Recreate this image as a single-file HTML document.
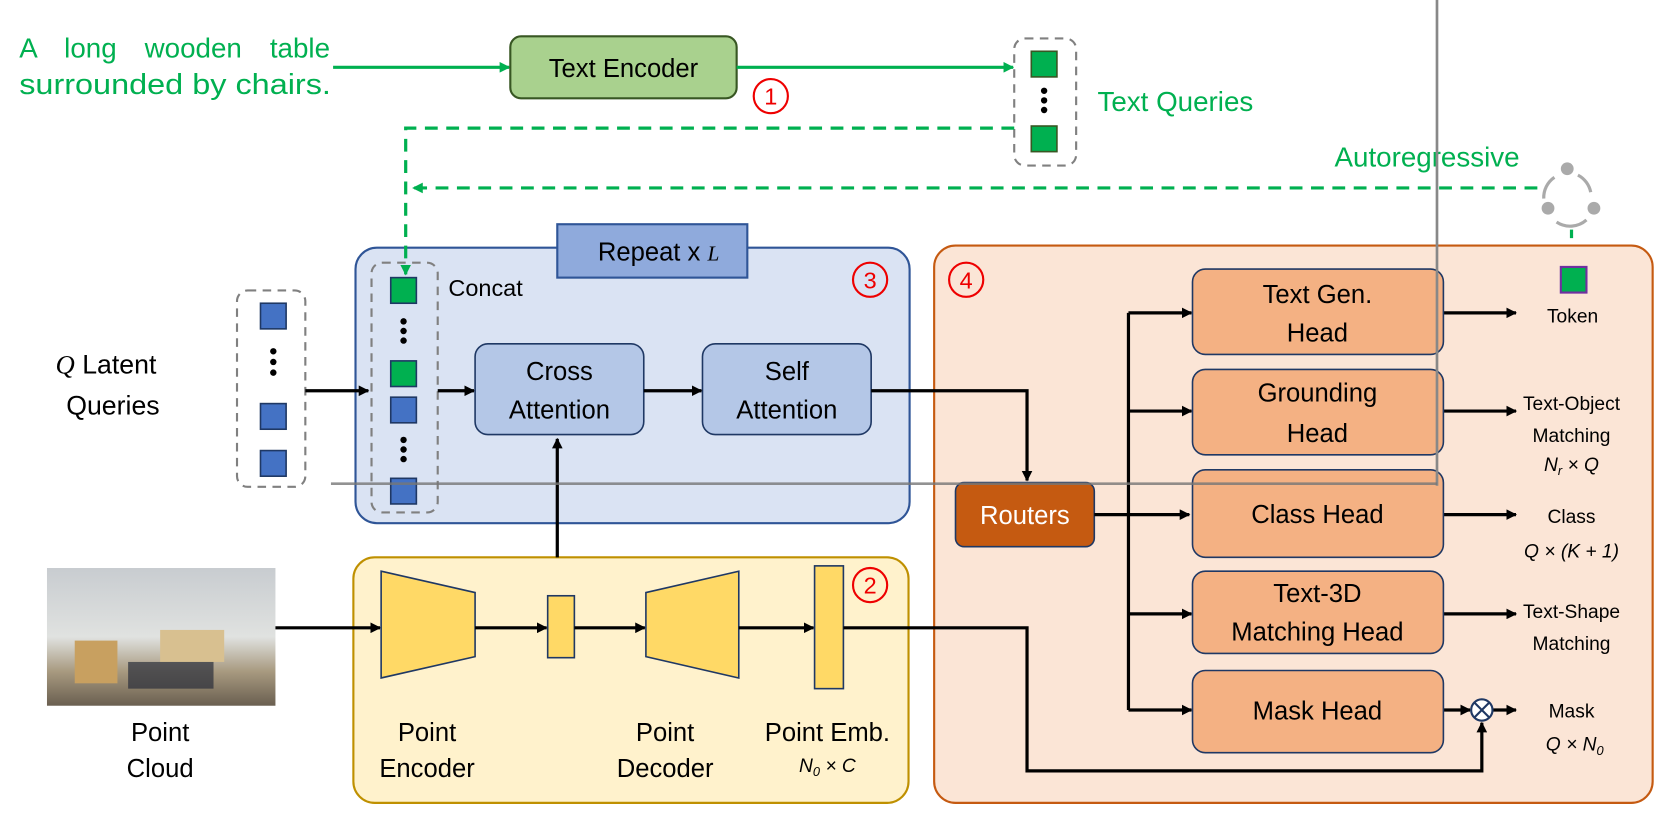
<!DOCTYPE html>
<html><head><meta charset="utf-8"><style>html,body{margin:0;padding:0;background:#fff}svg{display:block}
text{font-family:"Liberation Sans",sans-serif}</style></head><body>
<svg width="1674" height="820" viewBox="0 0 1568 768" xmlns="http://www.w3.org/2000/svg">
<defs>
<marker id="a" markerWidth="10" markerHeight="10" refX="9" refY="5" orient="auto" markerUnits="userSpaceOnUse"><path d="M0,0 L10,5 L0,10 Z" fill="#000"/></marker>
<marker id="g" markerWidth="10" markerHeight="10" refX="9" refY="5" orient="auto" markerUnits="userSpaceOnUse"><path d="M0,0 L10,5 L0,10 Z" fill="#00b050"/></marker>
<linearGradient id="ph" x1="0" y1="0" x2="0" y2="1"><stop offset="0" stop-color="#c8ccd0"/><stop offset="0.5" stop-color="#e0e2e0"/><stop offset="0.75" stop-color="#a89a80"/><stop offset="1" stop-color="#6a5f50"/></linearGradient>
</defs>
<!-- top text -->
<g fill="#00b050" font-size="26">
<text x="18" y="54" word-spacing="19">A long wooden table</text>
<text x="18" y="88" font-size="27" textLength="292" lengthAdjust="spacingAndGlyphs">surrounded by chairs.</text>
<text x="1028" y="104">Text Queries</text>
<text x="1250" y="156">Autoregressive</text>
</g>
<line x1="312" y1="63" x2="477" y2="63" stroke="#00b050" stroke-width="3" marker-end="url(#g)"/>
<rect x="478" y="34" width="212" height="58" rx="10" fill="#a9d18e" stroke="#385723" stroke-width="2"/>
<text x="584" y="72" font-size="24" text-anchor="middle">Text Encoder</text>
<circle cx="722" cy="90" r="16" fill="#fff" stroke="#e00" stroke-width="2"/><text x="722" y="98" font-size="22" fill="#e00" text-anchor="middle">1</text>
<line x1="690" y1="63" x2="949" y2="63" stroke="#00b050" stroke-width="3" marker-end="url(#g)"/>
<rect x="950" y="36" width="58" height="119" rx="10" fill="none" stroke="#808080" stroke-width="2" stroke-dasharray="8,6"/>
<rect x="966" y="48" width="24" height="24" fill="#00b050" stroke="#385723" stroke-width="1.5"/>
<rect x="966" y="118" width="24" height="24" fill="#00b050" stroke="#385723" stroke-width="1.5"/>
<g fill="#000"><circle cx="978" cy="85" r="3"/><circle cx="978" cy="94" r="3"/><circle cx="978" cy="103" r="3"/></g>
<path d="M1440,176 H387" fill="none" stroke="#00b050" stroke-width="3" stroke-dasharray="12,8" marker-end="url(#g)"/>
<!-- cycle icon -->
<g fill="#aaa" stroke="#aaa"><circle cx="1468" cy="158" r="6" stroke="none"/><circle cx="1450" cy="195" r="6" stroke="none"/><circle cx="1493" cy="195" r="6" stroke="none"/>
<path d="M1446,186 A23,23 0 0 1 1456,166 M1478,164 A23,23 0 0 1 1490,180 M1486,206 A23,23 0 0 1 1458,208" fill="none" stroke-width="3"/></g>
<line x1="1472" y1="215" x2="1472" y2="250" stroke="#00b050" stroke-width="3" stroke-dasharray="8,6"/>
<!-- blue box -->
<rect x="333" y="232" width="519" height="258" rx="20" fill="#dae3f3" stroke="#2f5597" stroke-width="2"/>
<path d="M950,120 H380 V257" fill="none" stroke="#00b050" stroke-width="3" stroke-dasharray="12,8" marker-end="url(#g)"/>
<rect x="522" y="210" width="178" height="50" fill="#8faadc" stroke="#2f5597" stroke-width="2"/>
<text x="560" y="244" font-size="24">Repeat x <tspan font-family="Liberation Serif" font-style="italic" font-size="20">L</tspan></text>
<circle cx="815" cy="262" r="16" fill="none" stroke="#e00" stroke-width="2"/><text x="815" y="270" font-size="22" fill="#e00" text-anchor="middle">3</text>
<text x="420" y="277" font-size="22">Concat</text>
<rect x="348" y="246" width="62" height="234" rx="10" fill="none" stroke="#808080" stroke-width="2" stroke-dasharray="8,6"/>
<rect x="366" y="260" width="24" height="24" fill="#00b050" stroke="#1f3864" stroke-width="1.5"/>
<rect x="366" y="338" width="24" height="24" fill="#00b050" stroke="#1f3864" stroke-width="1.5"/>
<rect x="366" y="372" width="24" height="24" fill="#4472c4" stroke="#1f3864" stroke-width="1.5"/>
<rect x="366" y="448" width="24" height="24" fill="#4472c4" stroke="#1f3864" stroke-width="1.5"/>
<g fill="#000"><circle cx="378" cy="301" r="3"/><circle cx="378" cy="310" r="3"/><circle cx="378" cy="319" r="3"/>
<circle cx="378" cy="412" r="3"/><circle cx="378" cy="421" r="3"/><circle cx="378" cy="430" r="3"/>
<circle cx="256" cy="329" r="3"/><circle cx="256" cy="339" r="3"/><circle cx="256" cy="349" r="3"/></g>
<rect x="222" y="272" width="64" height="184" rx="10" fill="none" stroke="#808080" stroke-width="2" stroke-dasharray="8,6"/>
<rect x="244" y="284" width="24" height="24" fill="#4472c4" stroke="#1f3864" stroke-width="1.5"/>
<rect x="244" y="378" width="24" height="24" fill="#4472c4" stroke="#1f3864" stroke-width="1.5"/>
<rect x="244" y="422" width="24" height="24" fill="#4472c4" stroke="#1f3864" stroke-width="1.5"/>
<text x="52" y="350" font-size="25"><tspan font-family="Liberation Serif" font-style="italic">Q</tspan>  Latent</text>
<text x="62" y="388" font-size="25">Queries</text>
<line x1="286" y1="366" x2="345" y2="366" stroke="#000" stroke-width="3" marker-end="url(#a)"/>
<line x1="410" y1="366" x2="444" y2="366" stroke="#000" stroke-width="3" marker-end="url(#a)"/>
<rect x="445" y="322" width="158" height="85" rx="12" fill="#b4c7e7" stroke="#1f3864" stroke-width="1.5"/>
<text x="524" y="356" font-size="24" text-anchor="middle">Cross</text><text x="524" y="392" font-size="24" text-anchor="middle">Attention</text>
<rect x="658" y="322" width="158" height="85" rx="12" fill="#b4c7e7" stroke="#1f3864" stroke-width="1.5"/>
<text x="737" y="356" font-size="24" text-anchor="middle">Self</text><text x="737" y="392" font-size="24" text-anchor="middle">Attention</text>
<line x1="603" y1="366" x2="657" y2="366" stroke="#000" stroke-width="3" marker-end="url(#a)"/>
<!-- yellow box -->
<rect x="331" y="522" width="520" height="230" rx="20" fill="#fff2cc" stroke="#bf9000" stroke-width="2"/>
<circle cx="815" cy="548" r="16" fill="none" stroke="#e00" stroke-width="2"/><text x="815" y="556" font-size="22" fill="#e00" text-anchor="middle">2</text>
<rect x="44" y="532" width="214" height="129" fill="url(#ph)"/>
<rect x="150" y="590" width="60" height="30" fill="#d8c090"/><rect x="70" y="600" width="40" height="40" fill="#c8a060"/>
<rect x="120" y="620" width="80" height="25" fill="#2a2e3a" opacity="0.7"/>
<line x1="258" y1="588" x2="356" y2="588" stroke="#000" stroke-width="3" marker-end="url(#a)"/>
<polygon points="357,535 445,555 445,615 357,635" fill="#ffd966" stroke="#1f3864" stroke-width="1.5"/>
<line x1="445" y1="588" x2="512" y2="588" stroke="#000" stroke-width="3" marker-end="url(#a)"/>
<rect x="513" y="558" width="25" height="58" fill="#ffd966" stroke="#1f3864" stroke-width="1.5"/>
<line x1="538" y1="588" x2="604" y2="588" stroke="#000" stroke-width="3" marker-end="url(#a)"/>
<polygon points="605,555 692,535 692,635 605,615" fill="#ffd966" stroke="#1f3864" stroke-width="1.5"/>
<line x1="692" y1="588" x2="762" y2="588" stroke="#000" stroke-width="3" marker-end="url(#a)"/>
<rect x="763" y="530" width="27" height="115" fill="#ffd966" stroke="#1f3864" stroke-width="1.5"/>
<line x1="522" y1="522" x2="522" y2="411" stroke="#000" stroke-width="3" marker-end="url(#a)"/>
<g font-size="24" text-anchor="middle">
<text x="150" y="694">Point</text><text x="150" y="728">Cloud</text>
<text x="400" y="694">Point</text><text x="400" y="728">Encoder</text>
<text x="623" y="694">Point</text><text x="623" y="728">Decoder</text>
<text x="775" y="694">Point Emb.</text></g>
<text x="775" y="723" font-size="18" font-family="Liberation Serif" font-style="italic" text-anchor="middle">N<tspan font-size="12" dy="4">0</tspan><tspan dy="-4"> × C</tspan></text>
<!-- orange box -->
<rect x="875" y="230" width="673" height="522" rx="20" fill="#fbe5d6" stroke="#c55a11" stroke-width="2"/>
<path d="M816,366 H962 V450" fill="none" stroke="#000" stroke-width="3" marker-end="url(#a)"/>
<circle cx="905" cy="262" r="16" fill="none" stroke="#e00" stroke-width="2"/><text x="905" y="270" font-size="22" fill="#e00" text-anchor="middle">4</text>
<path d="M790,588 H962 V722 H1388 V677" fill="none" stroke="#000" stroke-width="3" marker-end="url(#a)"/>
<rect x="895" y="452" width="130" height="60" rx="8" fill="#c55a11" stroke="#1f3864" stroke-width="1.5"/>
<text x="960" y="491" font-size="24" fill="#fff" text-anchor="middle">Routers</text>
<line x1="1025" y1="482" x2="1114" y2="482" stroke="#000" stroke-width="3" marker-end="url(#a)"/>
<line x1="1057" y1="293" x2="1057" y2="665" stroke="#000" stroke-width="3"/>
<g stroke="#000" stroke-width="3" marker-end="url(#a)">
<line x1="1057" y1="293" x2="1116" y2="293"/><line x1="1057" y1="385" x2="1116" y2="385"/>
<line x1="1057" y1="575" x2="1116" y2="575"/><line x1="1057" y1="665" x2="1116" y2="665"/>
<line x1="1352" y1="293" x2="1420" y2="293"/><line x1="1352" y1="385" x2="1420" y2="385"/>
<line x1="1352" y1="482" x2="1420" y2="482"/><line x1="1352" y1="575" x2="1420" y2="575"/>
<line x1="1352" y1="665" x2="1377" y2="665"/><line x1="1398" y1="665" x2="1420" y2="665"/></g>
<g fill="#f4b183" stroke="#1f3864" stroke-width="1.5">
<rect x="1117" y="252" width="235" height="80" rx="12"/><rect x="1117" y="346" width="235" height="80" rx="12"/>
<rect x="1117" y="440" width="235" height="82" rx="12"/><rect x="1117" y="535" width="235" height="77" rx="12"/>
<rect x="1117" y="628" width="235" height="77" rx="12"/></g>
<g font-size="24" text-anchor="middle">
<text x="1234" y="284">Text Gen.</text><text x="1234" y="320">Head</text>
<text x="1234" y="376">Grounding</text><text x="1234" y="414">Head</text>
<text x="1234" y="490">Class Head</text>
<text x="1234" y="564">Text-3D</text><text x="1234" y="600">Matching Head</text>
<text x="1234" y="674">Mask Head</text></g>
<circle cx="1388" cy="665" r="10" fill="#fff" stroke="#1f3864" stroke-width="2"/>
<path d="M1381,658 L1395,672 M1395,658 L1381,672" stroke="#1f3864" stroke-width="2"/>
<rect x="1462" y="250" width="24" height="24" fill="#00b050" stroke="#7030a0" stroke-width="2"/>
<g font-size="18" text-anchor="middle">
<text x="1473" y="302">Token</text>
<text x="1472" y="384">Text-Object</text><text x="1472" y="414">Matching</text>
<text x="1472" y="490">Class</text>
<text x="1472" y="579">Text-Shape</text><text x="1472" y="609">Matching</text>
<text x="1472" y="672">Mask</text></g>
<g font-family="Liberation Serif" font-style="italic" font-size="18" text-anchor="middle">
<text x="1472" y="441">N<tspan font-size="12" dy="4">r</tspan><tspan dy="-4"> × Q</tspan></text>
<text x="1472" y="522">Q × (K + 1)</text>
<text x="1475" y="703">Q × N<tspan font-size="12" dy="4">0</tspan></text></g>
<!-- gray artifacts -->
<line x1="1346" y1="0" x2="1346" y2="455" stroke="#888" stroke-width="2.5"/>
<line x1="310" y1="453" x2="1346" y2="453" stroke="#777" stroke-width="2.5" opacity="0.8"/>
</svg>
</body></html>
